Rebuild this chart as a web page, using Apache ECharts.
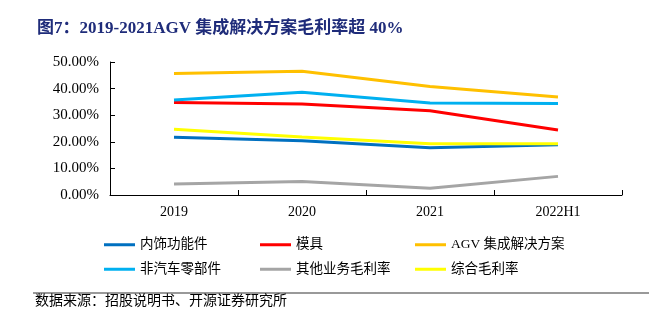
<!DOCTYPE html>
<html><head><meta charset="utf-8">
<script src="https://cdn.jsdelivr.net/npm/echarts@6/dist/echarts.min.js"></script>
<style>html,body{margin:0;padding:0;background:#fff}#c{width:665px;height:324px}</style>
</head><body><div id="c"></div>
<script>
const categories = ['2019', '2020', '2021', '2022H1'];
const yTicks = [0, 10, 20, 30, 40, 50];
const names = ['内饰功能件', '模具', 'AGV 集成解决方案', '非汽车零部件', '其他业务毛利率', '综合毛利率'];
const neishi = [21.7, 20.4, 17.8, 18.9];
const muju = [34.8, 34.2, 31.7, 24.4];
const agv = [45.7, 46.5, 40.8, 36.8];
const feiqiche = [35.7, 38.6, 34.6, 34.4];
const qita = [4.1, 5.1, 2.5, 7.0];
const zonghe = [24.7, 21.8, 19.3, 19.3];
const colors = ['#0070C0', '#FF0000', '#FFC000', '#00B0F0', '#A5A5A5', '#FFFF00'];
const seriesData = [neishi, muju, agv, feiqiche, qita, zonghe];

const serif = '"Liberation Serif","Noto Sans CJK SC",serif';
const chart = echarts.init(document.getElementById('c'));
function legendCol(left, items) {
  return {
    left: left, top: 233, orient: 'vertical', itemGap: 11,
    itemWidth: 31, itemHeight: 3, icon: 'rect',
    data: items,
    textStyle: {fontFamily: serif, fontSize: 13.5, color: '#000'},
    selectedMode: false
  };
}
chart.setOption({
  animation: false,
  color: colors,
  title: {
    text: '图7：2019-2021AGV 集成解决方案毛利率超 40%',
    left: 32, top: 15,
    textStyle: {fontFamily: serif, fontSize: 17, fontWeight: 'bold', color: '#1F2C7A'}
  },
  grid: {left: 110, right: 43, top: 62, bottom: 129},
  xAxis: {
    type: 'category', data: categories,
    axisLine: {lineStyle: {color: '#000', width: 1}},
    axisTick: {show: true, lineStyle: {color: '#000'}, length: 5, inside: true},
    axisLabel: {fontFamily: serif, fontSize: 14, color: '#000', margin: 10}
  },
  yAxis: {
    type: 'value', min: yTicks[0], max: yTicks[yTicks.length - 1], interval: 10,
    axisLine: {show: true, lineStyle: {color: '#000'}},
    axisTick: {show: true, inside: true, length: 5, lineStyle: {color: '#000'}},
    splitLine: {show: false},
    axisLabel: {fontFamily: serif, fontSize: 15, color: '#000', margin: 11,
      formatter: v => v.toFixed(2) + '%'}
  },
  legend: [
    legendCol(99, [names[0], names[3]]),
    legendCol(255, [names[1], names[4]]),
    legendCol(410, [names[2], names[5]])
  ],
  series: seriesData.map((d, i) => ({
    name: names[i], type: 'line', data: d, symbol: 'none',
    lineStyle: {width: 3, color: colors[i]}, itemStyle: {color: colors[i]}
  })),
  graphic: [
    {type: 'line', shape: {x1: 33, y1: 293, x2: 649, y2: 293}, style: {stroke: '#777', lineWidth: 1.5}},
    {type: 'text', left: 35, top: 293, style: {text: '数据来源：招股说明书、开源证券研究所', font: '14px "Noto Sans CJK SC"', fill: '#000'}}
  ]
});
</script></body></html>
